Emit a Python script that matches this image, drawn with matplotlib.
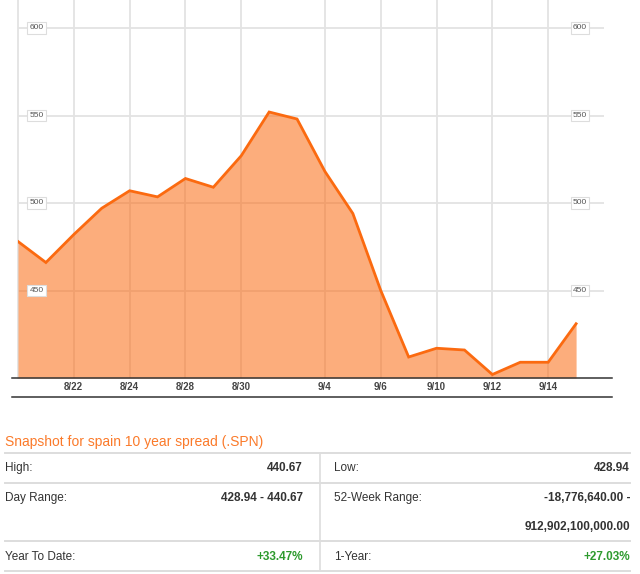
import matplotlib
matplotlib.use("Agg")
import matplotlib.pyplot as plt
import matplotlib.transforms as mtransforms
from matplotlib.lines import Line2D

# Palette
LINE   = "#fb6a10"
GRID   = "#e3e3e3"
INK    = "#333333"
TITLE  = "#fb7a2a"
GREEN  = "#2e9a2e"
RULE   = "#dddddd"

W, H = 640, 574

# Data: spain 10 year spread, daily closes
dates = ["8/20", "8/21", "8/22", "8/23", "8/24", "8/27", "8/28", "8/29", "8/30",
         "8/31", "9/3", "9/4", "9/5", "9/6", "9/7", "9/10", "9/11", "9/12",
         "9/13", "9/14", "9/17"]
spread = [478, 466, 482, 497, 507, 503.5, 514, 509, 527, 552, 548, 518, 494,
          450, 412, 417, 416, 402, 409, 409, 431]
tick_dates = ["8/22", "8/24", "8/28", "8/30", "9/4", "9/6", "9/10", "9/12", "9/14"]
y_ticks = [450, 500, 550, 600]

# Snapshot table
snap_title = "Snapshot for spain 10 year spread (.SPN)"
left_labels = ["High:", "Day Range:", "Year To Date:"]
left_values = ["440.67", "428.94 - 440.67", "+33.47%"]
right_labels = ["Low:", "52-Week Range:", "1-Year:"]
right_values = ["428.94", "-18,776,640.00 -", "+27.03%"]
range_cont = "912,902,100,000.00"

plt.rcParams.update({
    "font.family": ["Liberation Sans", "DejaVu Sans"],
    "figure.facecolor": "white",
    "axes.facecolor": "white",
})


def fx(x):
    return x / W


def fy(y):
    return 1 - y / H


fig = plt.figure(figsize=(W / 100, H / 100), dpi=100)

# ---------------------------------------------------------------------------
# CHART
# ---------------------------------------------------------------------------
ax = fig.add_axes([fx(18), fy(378), fx(604) - fx(18), fy(0) - fy(378)])
x = list(range(len(spread)))
ax.fill_between(x, spread, 400, color=LINE, alpha=0.55, linewidth=0, zorder=2)
ax.plot(x, spread, color=LINE, linewidth=2, zorder=3, solid_joinstyle="miter")

ax.set_xlim(0, 21)
ax.set_ylim(400, 616)

tick_pos = [dates.index(d) for d in tick_dates]
ax.set_xticks(tick_pos)
ax.set_xticklabels(tick_dates, fontsize=7, fontweight="bold", color="#444444")
ax.set_yticks(y_ticks)
ax.set_yticklabels([])
ax.tick_params(length=0, pad=3)
ax.grid(True, color=GRID, linewidth=1.3, zorder=1)
ax.set_axisbelow(True)

for side in ("top", "right", "bottom"):
    ax.spines[side].set_visible(False)
ax.spines["left"].set_color(GRID)
ax.spines["left"].set_linewidth(1.3)
ax.spines["left"].set_zorder(1)

# boxed y labels on both sides
trans = mtransforms.blended_transform_factory(ax.transAxes, ax.transData)
for v in y_ticks:
    for xa in ((36.5 - 18) / 586, (580 - 18) / 586):
        ax.text(xa, v, str(v), transform=trans, ha="center", va="center",
                fontsize=6, color="#555555", zorder=4,
                bbox=dict(boxstyle="square,pad=0.25", facecolor="white",
                          edgecolor="#dddddd", linewidth=0.8))

# dark rules above and below the date labels
for yy in (378, 397):
    fig.add_artist(Line2D([fx(12), fx(612)], [fy(yy), fy(yy)],
                          color="#333333", linewidth=1.1))

# ---------------------------------------------------------------------------
# SNAPSHOT TABLE
# ---------------------------------------------------------------------------
fig.text(fx(5), fy(442), snap_title, color=TITLE, fontsize=10,
         ha="left", va="center")

for yy in (453, 483, 541, 571):
    fig.add_artist(Line2D([fx(5), fx(630)], [fy(yy), fy(yy)],
                          color=RULE, linewidth=1.4))
fig.add_artist(Line2D([fx(320), fx(320)], [fy(453), fy(571)],
                      color=RULE, linewidth=1.2))

row_y = [468, 498, 557]
for i, yy in enumerate(row_y):
    vcol = GREEN if left_values[i].startswith("+") else INK
    fig.text(fx(5), fy(yy), left_labels[i], color=INK, fontsize=8.5,
             ha="left", va="center")
    fig.text(fx(303), fy(yy), left_values[i], color=vcol, fontsize=8.5,
             fontweight="bold", ha="right", va="center")
    vcol = GREEN if right_values[i].startswith("+") else INK
    fig.text(fx(334), fy(yy), right_labels[i], color=INK, fontsize=8.5,
             ha="left", va="center")
    fig.text(fx(630), fy(yy), right_values[i], color=vcol, fontsize=8.5,
             fontweight="bold", ha="right", va="center")

fig.text(fx(630), fy(527), range_cont, color=INK, fontsize=8.5,
         fontweight="bold", ha="right", va="center")

fig.savefig("out.png", dpi=100)
